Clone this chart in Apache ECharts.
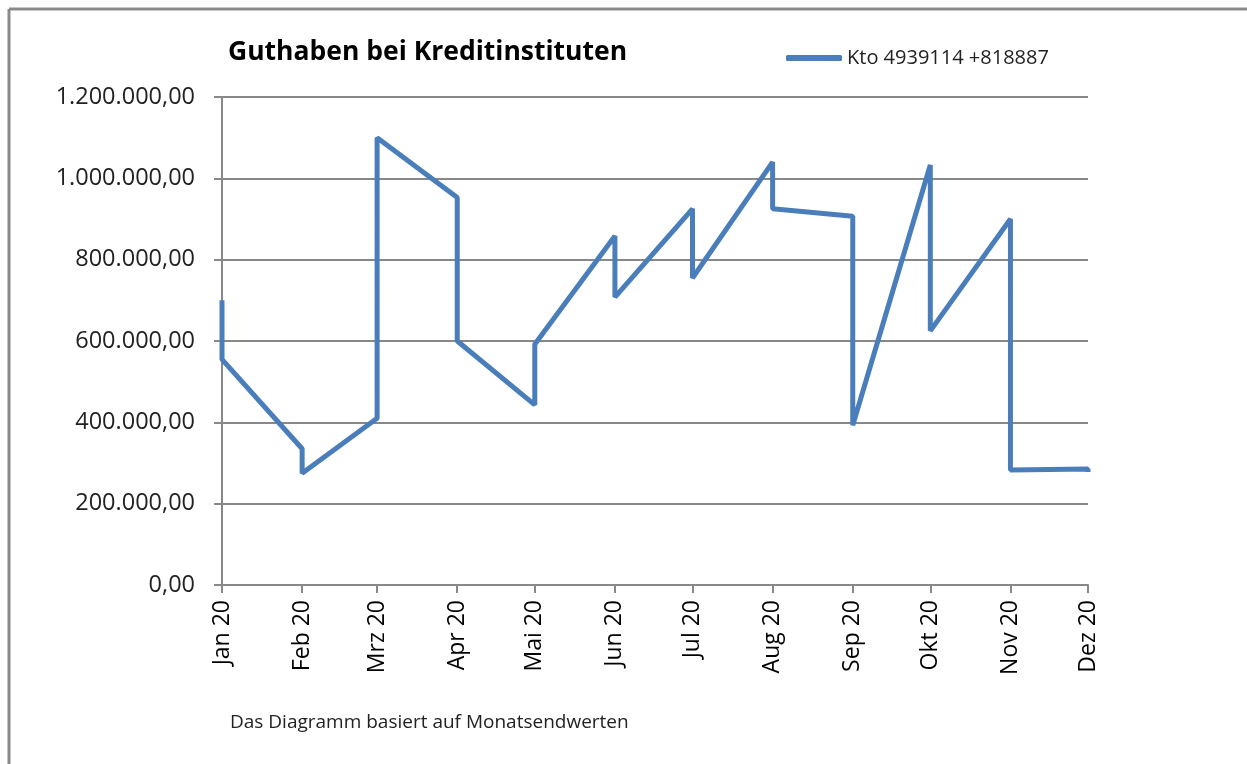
<!DOCTYPE html>
<html>
<head>
<meta charset="utf-8">
<script src="https://cdn.jsdelivr.net/npm/echarts@6/dist/echarts.min.js"></script>
<style>
html,body{margin:0;padding:0;background:#fff;}
#chart{width:1247px;height:764px;}
</style>
</head>
<body>
<div id="chart"></div>
<script>
// Month tick labels and month start positions (days since 1 Jan 2020)
const monthLabels = ['Jan 20','Feb 20','Mrz 20','Apr 20','Mai 20','Jun 20','Jul 20','Aug 20','Sep 20','Okt 20','Nov 20','Dez 20'];
const monthStartDays = [0,31,60,91,121,152,182,213,244,274,305,335];
// Two values per month (first and last point plotted at the month position)
const firstValues = [700000,335000,410000,953000,443000,858000,925000,1040000,907000,1033000,900000,285000];
const lastValues  = [555000,275000,1100000,600000,592000,708000,755000,925000,393000,625000,283000,278000];
const yTicks = [0,200000,400000,600000,800000,1000000,1200000];
const seriesName = 'Kto 4939114 +818887';
const titleText = 'Guthaben bei Kreditinstituten';
const footnote = 'Das Diagramm basiert auf Monatsendwerten';

const data = [];
for (let i = 0; i < monthLabels.length; i++) {
  data.push([monthStartDays[i], firstValues[i]]);
  data.push([monthStartDays[i], lastValues[i]]);
}

function fmtDE(v){
  const s = Math.round(v).toString().replace(/\B(?=(\d{3})+(?!\d))/g,'.');
  return s + ',00';
}

const FONT = 'Open Sans';
const chart = echarts.init(document.getElementById('chart'), null, {renderer:'canvas'});
chart.setOption({
  animation:false,
  backgroundColor:'#fff',
  textStyle:{fontFamily:FONT},
  title:{
    text:titleText, left:223, top:34,
    textStyle:{fontFamily:FONT, fontSize:26.5, fontWeight:'bold', color:'#000'}
  },
  legend:{
    left:781, top:43, icon:'roundRect', itemWidth:56, itemHeight:6,
    textStyle:{fontFamily:FONT, fontSize:20, color:'#222'},
    data:[seriesName]
  },
  grid:{left:222, right:159, top:97, bottom:179, containLabel:false},
  xAxis:{
    type:'value', min:0, max:monthStartDays[monthStartDays.length-1],
    axisLine:{show:true, lineStyle:{color:'#888', width:2}},
    axisTick:{show:true, length:8, customValues:monthStartDays, lineStyle:{color:'#888', width:2}},
    axisLabel:{
      customValues:monthStartDays, rotate:90, margin:15,
      fontFamily:FONT, fontSize:23, color:'#000',
      formatter:function(v){ const i = monthStartDays.indexOf(v); return i>=0 ? monthLabels[i] : ''; }
    },
    splitLine:{show:false}
  },
  yAxis:{
    type:'value', min:yTicks[0], max:yTicks[yTicks.length-1], interval:200000,
    axisLine:{show:true, lineStyle:{color:'#888', width:2}},
    axisTick:{show:true, length:8, lineStyle:{color:'#888', width:2}},
    axisLabel:{margin:27, fontFamily:FONT, fontSize:23.5, color:'#222', formatter:fmtDE},
    splitLine:{show:true, lineStyle:{color:'#888', width:2}}
  },
  graphic:[
    {type:'line', shape:{x1:9, y1:9, x2:1247, y2:9}, style:{stroke:'#8a8a8a', lineWidth:3}},
    {type:'line', shape:{x1:9, y1:9, x2:9, y2:764}, style:{stroke:'#8a8a8a', lineWidth:3}},
    {type:'text', left:230, top:713, style:{text:footnote, fontFamily:FONT, fontSize:19, fill:'#222'}}
  ],
  series:[{
    name:seriesName, type:'line', data:data, symbol:'none',
    lineStyle:{color:'#4A7EBB', width:5, join:'bevel'},
    itemStyle:{color:'#4A7EBB'}
  }]
});
</script>
</body>
</html>
